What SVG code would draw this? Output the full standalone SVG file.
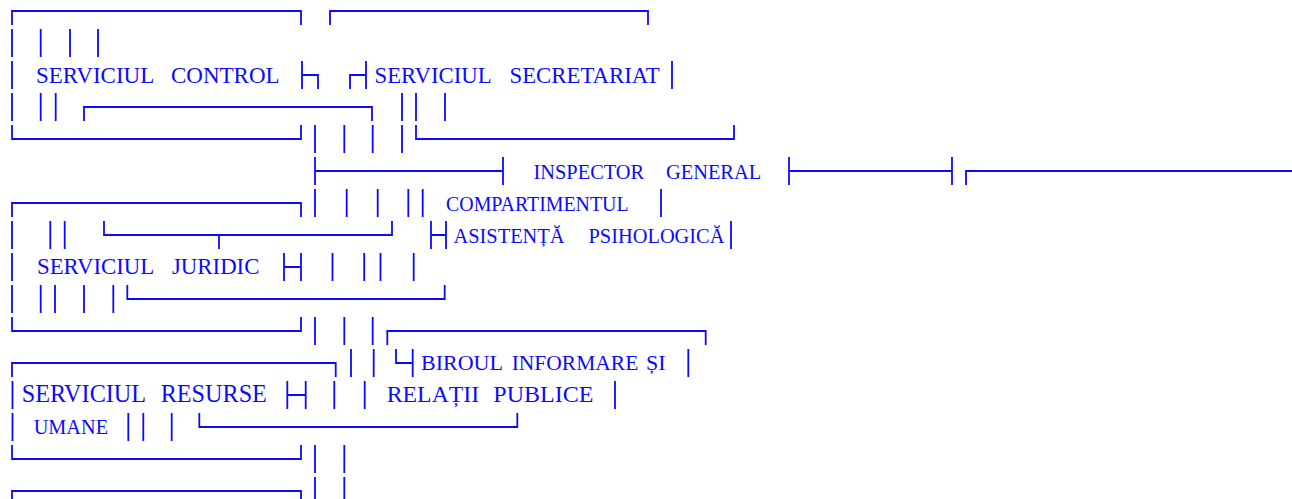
<svg xmlns="http://www.w3.org/2000/svg" width="1292" height="499" viewBox="0 0 1292 499">
<style>
.ln{fill:none;stroke:#0a0aff;stroke-width:1.8;stroke-linecap:butt;stroke-linejoin:miter}
.t{font-family:"Liberation Serif","Times New Roman",serif;fill:#0a0aff}
</style>
<rect width="1292" height="499" fill="#ffffff"/>
<g id="node-control">
<path class="ln" d="M12 25V11H301V25 M12 29V57 M12 61V89 M12 93V121 M12 125V139H301V125"/>
<text class="t" y="83" font-size="23"><tspan x="36">SERVICIUL</tspan><tspan x="171">CONTROL</tspan></text>
</g>
<g id="node-secretariat">
<path class="ln" d="M330 25V11H648V25 M672 61V89 M416 125V139H734V125"/>
<text class="t" y="83" font-size="22.8"><tspan x="374.5">SERVICIUL</tspan><tspan x="509.5">SECRETARIAT</tspan></text>
</g>
<g id="node-inspector">
<text class="t" y="178.5" font-size="20.4"><tspan x="533.5">INSPECTOR</tspan><tspan x="666">GENERAL</tspan></text>
</g>
<g id="node-compartiment">
<path class="ln" d="M661 189V217 M731 221V249"/>
<text class="t"><tspan x="446" y="210.5" font-size="19.9">COMPARTIMENTUL</tspan><tspan x="453.5" y="242.5" font-size="20.4">ASISTENȚĂ</tspan><tspan x="588.5" y="242.5" font-size="20.4">PSIHOLOGICĂ</tspan></text>
</g>
<g id="node-juridic">
<path class="ln" d="M12 217V203H301V217 M12 221V249 M12 253V281 M12 285V313 M12 317V331H301V317"/>
<text class="t" y="274" font-size="22.8"><tspan x="37">SERVICIUL</tspan><tspan x="172">JURIDIC</tspan></text>
</g>
<g id="node-birou">
<path class="ln" d="M387.3 345V331H705.7V345 M688.3 349V377 M615 381V409"/>
<text class="t"><tspan x="421" y="370" font-size="22">BIROUL</tspan><tspan x="511.7" y="370" font-size="21.5">INFORMARE</tspan><tspan x="646" y="370" font-size="22">ȘI</tspan><tspan x="386.7" y="401.7" font-size="23.8">RELAȚII</tspan><tspan x="493.3" y="401.7" font-size="24">PUBLICE</tspan></text>
</g>
<g id="node-resurse">
<path class="ln" d="M12 377V363H335.7V377 M12.5 381V409 M12.5 413V441 M12 445V459H301V445"/>
<text class="t"><tspan x="21.7" y="401.7" font-size="24.2">SERVICIUL</tspan><tspan x="160.7" y="401.7" font-size="24.2">RESURSE</tspan><tspan x="33.7" y="434" font-size="20.3">UMANE</tspan></text>
</g>
<g id="node-bottom">
<path class="ln" d="M12 505V491H301V505"/>
</g>
<g id="connectors">
<path class="ln" d="
M40.7 29V57 M70 29V57 M98 29V57
M302 61V89 M302 75H318V89
M350 89V75H366 M366 61V89
M40.7 93V121 M55.7 93V121
M84 121V107H372V121
M402 93V121 M416 93V121 M445 93V121
M315 125V153 M344.3 125V153 M372.7 125V153 M402 125V153
M315 157V185 M315 171H503 M503 157V185
M789 157V185 M789 171H952 M952 157V185
M966 185V171H1292
M315 189V217 M346.7 189V217 M377.7 189V217 M408.3 189V217 M422.7 189V217
M50.3 221V249 M64.7 221V249
M104 221V235H392V221 M219 235V249
M431 221V249 M431 235H446 M446 221V249
M284 253V281 M284 267H301 M301 253V281
M332.5 253V281 M364.2 253V281 M380.5 253V281 M413.7 253V281
M40.7 285V313 M55 285V313 M84 285V313 M113.3 285V313
M127.3 285V299H444.7V285
M315 317V345 M344.3 317V345 M372.7 317V345
M351 349V377 M373.7 349V377
M396 349V363H412.7 M412.7 349V377
M287.3 381V409 M287.3 395H305.7 M305.7 381V409
M334.3 381V409 M364.7 381V409
M128.3 413V441 M143.3 413V441 M171.7 413V441
M199.3 413V427H517.3V413
M315 445V473 M344.3 445V473
M315 477V505 M344.3 477V505"/>
</g>
</svg>
